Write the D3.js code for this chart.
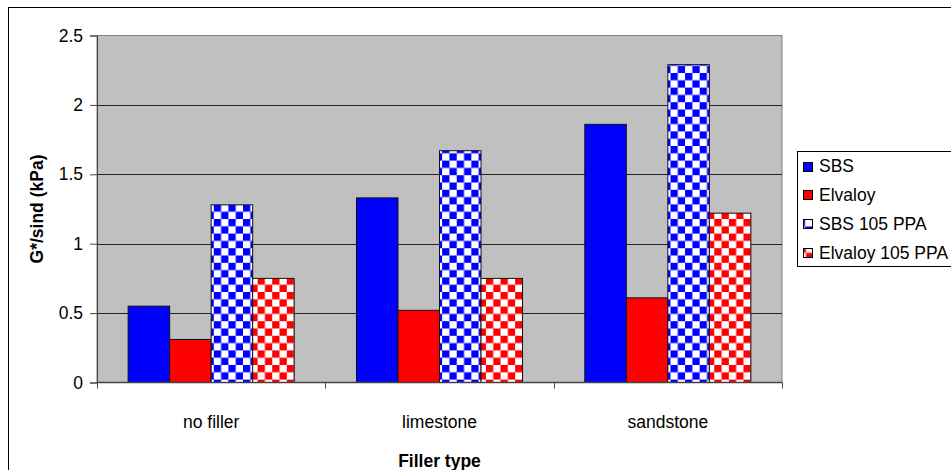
<!DOCTYPE html>
<html>
<head>
<meta charset="utf-8">
<script src="https://cdn.jsdelivr.net/npm/d3@7/dist/d3.min.js"></script>
<style>
  html, body { margin: 0; padding: 0; background: #fff; }
  svg { display: block; }
  text { font-family: "Liberation Sans", Arial, sans-serif; }
</style>
</head>
<body>
<svg id="chart" width="951" height="470"></svg>
<script>
// ---- data ----
const categories = ["no filler", "limestone", "sandstone"];
const seriesNames = ["SBS", "Elvaloy", "SBS 105 PPA", "Elvaloy 105 PPA"];
const sbs = [0.55, 1.33, 1.86];
const elvaloy = [0.31, 0.52, 0.61];
const sbsPPA = [1.28, 1.67, 2.29];
const elvaloyPPA = [0.75, 0.75, 1.22];
const yTicks = [0, 0.5, 1, 1.5, 2, 2.5];

const seriesValues = [sbs, elvaloy, sbsPPA, elvaloyPPA];
const seriesColor = ["#0000FF", "#FF0000", "#0000FF", "#FF0000"];
const seriesChecker = [false, false, true, true];

const FS = 17.5;
const svg = d3.select("#chart");
const W = 951, H = 470;
const plot = { left: 97, right: 782, top: 35.5, bottom: 382.5 };

// patterns
const defs = svg.append("defs");
function makePattern(id, color, ox, oy) {
  const cell = 7.3;
  const p = defs.append("pattern").attr("id", id)
    .attr("patternUnits", "userSpaceOnUse")
    .attr("x", ox).attr("y", oy)
    .attr("width", cell * 2).attr("height", cell * 2);
  p.append("rect").attr("width", cell * 2).attr("height", cell * 2).attr("fill", "#fff");
  p.append("rect").attr("width", cell).attr("height", cell).attr("fill", color);
  p.append("rect").attr("x", cell).attr("y", cell).attr("width", cell).attr("height", cell).attr("fill", color);
}
makePattern("chkBlue", "#0000FF", 0, 0);
makePattern("chkRed", "#FF0000", 0, 0);

// background
svg.append("rect").attr("width", W).attr("height", H).attr("fill", "#fff");
// outer chart border
svg.append("rect").attr("x", 8.5).attr("y", 7.5).attr("width", 1000).attr("height", 1000)
  .attr("fill", "none").attr("stroke", "#000").attr("stroke-width", 1);

// scales
const x0 = d3.scaleBand().domain(categories).range([plot.left, plot.right]).padding(0);
const x1 = d3.scaleBand().domain(seriesNames).range([0, x0.bandwidth()]).paddingInner(0).paddingOuter(0.75);
const y = d3.scaleLinear().domain([0, 2.5]).range([plot.bottom, plot.top]);

// plot area
svg.append("rect").attr("x", plot.left).attr("y", plot.top)
  .attr("width", plot.right - plot.left).attr("height", plot.bottom - plot.top)
  .attr("fill", "#C0C0C0").attr("stroke", "#808080").attr("stroke-width", 1);

// gridlines
svg.append("g").selectAll("line").data(yTicks.filter(d => d > 0 && d < 2.5)).join("line")
  .attr("x1", plot.left).attr("x2", plot.right)
  .attr("y1", d => Math.round(y(d)) + 0.5).attr("y2", d => Math.round(y(d)) + 0.5)
  .attr("stroke", "#222").attr("stroke-width", 1);

// bars
const groups = svg.append("g").selectAll("g").data(categories).join("g")
  .attr("transform", c => `translate(${x0(c)},0)`);
groups.selectAll("rect").data((c, ci) => seriesNames.map((s, si) => ({ s, si, v: seriesValues[si][ci] })))
  .join("rect")
  .attr("x", d => x1(d.s))
  .attr("y", d => y(d.v))
  .attr("width", x1.bandwidth())
  .attr("height", d => y(0) - y(d.v))
  .attr("fill", d => seriesChecker[d.si] ? (d.si === 2 ? "url(#chkBlue)" : "url(#chkRed)") : seriesColor[d.si])
  .attr("stroke", "#111").attr("stroke-width", 1);

// y axis
const yAxis = svg.append("g").attr("transform", `translate(${plot.left},0)`)
  .call(d3.axisLeft(y).tickValues(yTicks).tickSize(7).tickPadding(7).tickFormat(d3.format("")));
yAxis.select(".domain").attr("stroke", "#444");
yAxis.selectAll(".tick line").attr("stroke", "#444");
yAxis.selectAll("text").attr("font-size", FS).attr("fill", "#000")
  .attr("font-family", "'Liberation Sans', Arial, sans-serif");

// x axis (labels centered, ticks at boundaries)
const xAxis = svg.append("g").attr("transform", `translate(0,${plot.bottom})`)
  .call(d3.axisBottom(x0).tickSize(0).tickPadding(45));
xAxis.select(".domain").remove();
xAxis.selectAll("text").attr("font-size", FS).attr("fill", "#000").attr("dy", 0)
  .attr("font-family", "'Liberation Sans', Arial, sans-serif");
svg.append("line").attr("x1", plot.left).attr("x2", plot.right)
  .attr("y1", plot.bottom).attr("y2", plot.bottom)
  .attr("stroke", "#444").attr("stroke-width", 1.5);
const bounds = categories.map(c => x0(c)).concat([x0(categories[categories.length - 1]) + x0.bandwidth()]);
svg.append("g").selectAll("line").data(bounds).join("line")
  .attr("x1", d => Math.round(d) + 0.5).attr("x2", d => Math.round(d) + 0.5)
  .attr("y1", plot.bottom).attr("y2", plot.bottom + 6)
  .attr("stroke", "#444");

// axis titles
svg.append("text").attr("x", (plot.left + plot.right) / 2).attr("y", 466.5)
  .attr("text-anchor", "middle").attr("font-size", FS).attr("font-weight", "bold")
  .text("Filler type");
svg.append("text").attr("transform", `translate(43,${(plot.top + plot.bottom) / 2}) rotate(-90)`)
  .attr("text-anchor", "middle").attr("font-size", FS).attr("font-weight", "bold")
  .text("G*/sind (kPa)");

// legend
const legend = svg.append("g");
legend.append("rect").attr("x", 797.5).attr("y", 151.5).attr("width", 200).attr("height", 115)
  .attr("fill", "#fff").attr("stroke", "#000");
const rowY = d3.scaleLinear().domain([0, 3]).range([166, 252.5]);
makePattern("legBlue", "#0000FF", 803 - 5.3, rowY(2) - 4.5 - 7.3 * 2);
makePattern("legRed", "#FF0000", 803 - 4.3, rowY(3) - 4.5 - 2.5);
seriesNames.forEach((s, i) => {
  const cy = rowY(i);
  legend.append("rect").attr("x", 803.5).attr("y", Math.round(cy - 4.5) + 0.5)
    .attr("width", 9).attr("height", 9)
    .attr("fill", seriesChecker[i] ? (i === 2 ? "url(#legBlue)" : "url(#legRed)") : seriesColor[i])
    .attr("stroke", "#000");
  legend.append("text").attr("x", 819).attr("y", cy + 6).attr("font-size", FS).text(s);
});
</script>
</body>
</html>
